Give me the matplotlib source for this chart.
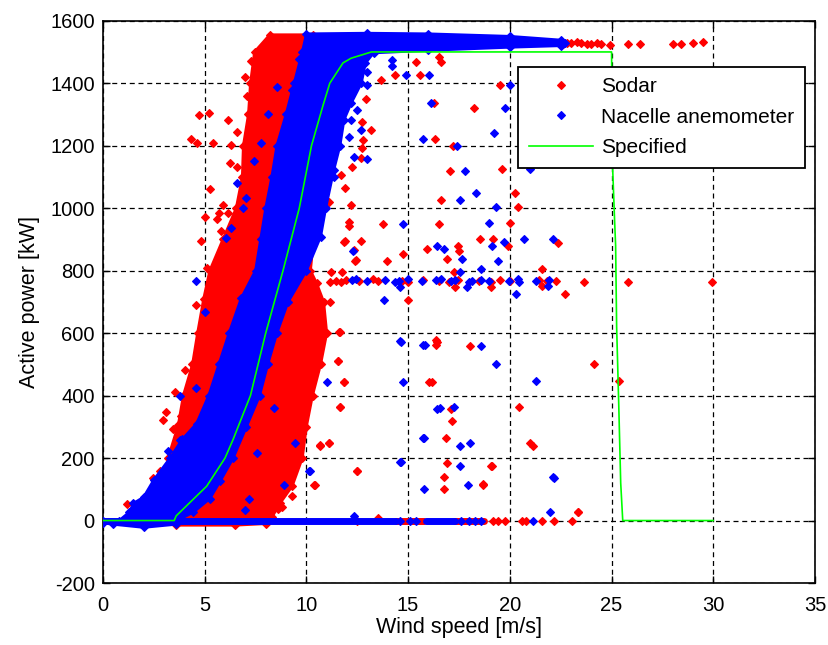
import matplotlib
matplotlib.use("Agg")
import matplotlib.pyplot as plt
from matplotlib.patches import Polygon

plt.rcParams['font.family'] = ['Liberation Sans', 'DejaVu Sans']
plt.rcParams['axes.unicode_minus'] = False

RED = '#ff0000'
BLUE = '#0000ff'
GREEN = '#00ff00'

# ---- Specified power curve ----
spec_ws = [0.0, 3.5, 3.6, 5.1, 5.6, 6.0, 6.4, 7.25, 8.0, 8.85, 9.65, 10.25, 10.8,
           11.15, 11.8, 12.2, 13.2, 25.0, 25.05, 25.15, 25.2, 25.25, 25.35, 25.45,
           25.55, 30.0]
spec_kw = [0, 0, 15, 110, 160, 200, 260, 400, 600, 800, 1000, 1200, 1325,
           1400, 1465, 1480, 1500, 1500, 1135, 960, 880, 620, 380, 120,
           0, 0]

# ---- Dense Sodar cloud outline (wind speed, power) ----
sodar_band_ws = [3.6, 6.5, 8.0, 8.3, 8.7, 9.3, 9.8, 10.0, 10.3, 10.7, 11.0, 10.85,
                 10.5, 10.2, 10.5, 11.2, 12.2, 12.5, 12.5, 10.3, 8.2, 7.45, 7.25,
                 7.15, 6.9, 6.85, 6.55, 5.9, 5.25, 4.95, 4.65, 4.4, 3.95, 3.7,
                 3.2, 3.3, 3.6]
sodar_band_kw = [-15, -15, -10, 10, 55, 110, 200, 300, 400, 500, 600, 700,
                 760, 800, 1000, 1200, 1400, 1480, 1545, 1555, 1555, 1500, 1400,
                 1300, 1200, 1100, 1000, 900, 800, 710, 600, 500, 400, 305,
                 200, 100, 0]

# ---- Dense nacelle anemometer cloud outline ----
nacelle_band_ws = [0.0, 0.8, 1.3, 1.5, 2.0, 2.5, 3.3, 3.9, 4.6, 5.2, 5.7, 6.2,
                   6.8, 7.5, 7.75, 8.0, 8.3, 8.55, 9.0, 9.4, 9.8, 10.0, 13.0,
                   16.0, 20.0, 22.5, 22.7, 22.5, 20.0, 16.0, 13.3, 12.9, 12.7,
                   12.2, 11.85, 11.65, 11.35, 10.95, 10.7, 10.0, 9.1, 8.55, 8.1,
                   7.7, 7.05, 6.4, 5.75, 5.25, 4.45, 3.8, 3.6, 2.0, 0.5, 0.0]
nacelle_band_kw = [0, 0, 27, 55, 75, 130, 200, 260, 310, 400, 500, 600,
                   712, 800, 900, 1000, 1100, 1200, 1300, 1400, 1500, 1558, 1560,
                   1558, 1550, 1538, 1528, 1520, 1515, 1505, 1497, 1464, 1400,
                   1336, 1283, 1200, 1123, 1000, 909, 800, 700, 600, 500,
                   400, 300, 200, 125, 70, 27, 5, -12, -22, -12, -8]

# Continuous runs of stopped-turbine readings on the zero line (start, end)
nacelle_zero_runs = [(0.0, 14.4), (15.9, 17.3)]
sodar_zero_runs = [(14.4, 15.8), (17.3, 18.75)]

# ---- Individual Sodar readings ----
sodar_ws = [
    # left of the main cloud
    1.2, 2.46, 2.79, 2.95, 3.11, 3.46, 3.52, 3.85, 4.02, 4.34, 4.59, 4.8, 5.13, 5.0,
    4.72, 5.21, 6.15, 6.57, 4.31, 4.64, 5.43, 6.28, 6.25, 6.57, 5.26, 5.92, 5.7,
    6.16, 5.59, 5.79, 7.3, 7.0, 7.1,
    # right of the main cloud, low power
    10.36, 9.29, 8.6, 8.8, 11.1, 11.67, 12.5, 10.67, 11.13, 11.53, 11.87, 11.67,
    11.17, 11.58, 10.65, 12.49, 11.54, 11.66, 11.84, 10.4,
    # upper right region
    12.09, 13.77, 16.52, 20.03, 11.89, 12.66, 12.4, 13.95, 14.75, 15.95, 17.46,
    17.5, 16.9, 18.53, 19.18, 19.9, 22.35, 21.58, 17.26, 11.2, 11.77, 15.39, 16.5,
    16.6, 13.65, 14.37, 15.57, 19.54, 16.25, 18.25, 16.34, 17.19, 17.05, 19.62,
    20.27, 16.64, 20.41, 12.58, 12.94, 12.75, 13.16, 12.8, 12.75, 12.66, 12.25,
    11.68, 11.92, 12.17, 11.13, 11.84, 12.34, 12.09, 12.42,
    # 760 kW derated row
    11.17, 11.46, 11.72, 11.97, 12.57, 13.26, 13.52, 14.72, 14.97, 15.75, 16.52,
    17.03, 17.43, 18.49, 19.09, 19.52, 20.03, 21.41, 21.84, 22.26, 23.67, 25.83,
    29.93, 15.0, 22.69, 17.3, 19.05, 21.58,
    # lower right region
    16.35, 16.35, 18.03, 24.15, 16.04, 25.35, 17.12, 17.15, 20.43, 16.86, 20.98,
    21.15, 16.91, 19.06, 16.74, 16.74, 18.66, 23.33, 19.1, 18.7, 23.36, 16.42,
    16.17,
    # zero line
    12.5, 13.5, 19.19, 19.43, 19.76, 20.58, 20.8, 21.57, 22.17, 23.04,
    # full-power tail
    22.6, 22.8, 23.0, 23.3, 23.5, 23.8, 24.0, 24.3, 24.5, 24.9, 25.8, 26.4, 28.0,
    28.4, 29.0, 29.5,
]
sodar_kw = [
    52, 135, 157, 322, 349, 292, 413, 335, 483, 370, 691, 896, 807, 973,
    1299, 1304, 1283, 1245, 1222, 1208, 1208, 1202, 1146, 1133, 1061, 1010, 983,
    986, 964, 928, 1470, 1420, 1360,
    114, 77, 38, 42, 247, 363, 157, 242, 248, 511, 442, 602,
    701, 605, 237, 160, 510, 362, 442, 114,
    944, 949, 949, 953, 894, 894, 830, 830, 854, 870, 880,
    862, 838, 900, 900, 878, 889, 806, 795, 795, 795, 1467, 1485,
    1467, 1410, 1426, 1426, 1394, 1335, 1319, 1220, 1200, 1120, 1125,
    1047, 1026, 1005, 1443, 1350, 1277, 1251, 1219, 1192, 1160, 1133,
    1107, 1064, 1011, 1021, 893, 867, 957, 835,
    765, 768, 764, 770, 766, 772, 768, 767, 764, 770, 768,
    765, 771, 768, 764, 769, 767, 770, 766, 768, 763, 763,
    763, 705, 726, 748, 748, 752,
    577, 563, 560, 501, 442, 448, 358, 320, 363, 264, 248,
    237, 184, 173, 138, 100, 114, 26, 173, 117, 27, 573,
    442,
    0, 8, 0, 0, 0, 0, 0, 0, 0, 0,
    1525, 1530, 1528, 1532, 1530, 1526, 1527, 1530, 1525, 1522, 1524, 1524, 1527,
    1527, 1529, 1531,
]

# ---- Individual nacelle anemometer readings ----
nacelle_ws = [
    # inside / left of the Sodar cloud
    4.56, 5.0, 3.77, 3.77, 3.2, 4.59, 6.57, 6.28, 6.03, 7.02, 7.75, 8.57, 9.64,
    9.31, 7.4, 6.9, 8.1,
    # right side, low power
    8.88, 10.2, 7.0, 7.16, 8.39, 9.46, 7.57, 10.13, 14.58, 11.03, 14.75, 16.58,
    15.8, 14.67, 15.8, 14.67, 15.83, 13.83, 20.29, 14.58, 15.71, 18.6, 19.31,
    21.27, 16.43, 17.24, 15.71, 17.55, 18.06, 17.55, 22.14, 17.94, 21.97, 22.17,
    # upper right region
    12.3, 14.75, 19.0, 16.43, 16.78, 17.63, 19.1, 19.73, 20.69, 22.14, 19.4,
    17.55, 18.58, 14.91, 16.04, 20.02, 16.11, 19.76, 19.21, 15.74, 17.41, 17.79,
    20.99, 18.36, 17.57, 19.33, 14.2, 14.2, 12.99, 12.96, 12.5, 12.17, 12.66,
    12.09, 12.34, 12.99, 11.35,
    # 760 kW derated row
    12.23, 12.45, 13.0, 13.86, 14.37, 14.55, 14.97, 15.66, 16.35, 16.6, 17.12,
    17.29, 17.98, 18.15, 18.58, 18.97, 19.95, 20.38, 20.46, 21.27, 21.92, 14.6,
    17.9, 21.9,
    # zero line
    12.33, 14.6, 15.1, 15.4, 17.6, 18.0, 18.3, 18.6, 21.14,
]
nacelle_kw = [
    768, 669, 399, 258, 221, 424, 1082, 935, 903, 1032, 1210, 1389, 1477,
    1379, 1150, 1000, 1300,
    114, 157, 34, 68, 359, 247, 215, 159, 186, 442, 442, 360,
    264, 186, 100, 573, 563, 705, 726, 574, 563, 560, 501,
    448, 358, 365, 264, 237, 248, 173, 138, 114, 26, 137,
    864, 949, 953, 880, 870, 838, 880, 891, 900, 900, 832,
    795, 806, 1426, 1426, 1394, 1338, 1319, 1242, 1220, 1200, 1120,
    1125, 1047, 1026, 1005, 1475, 1455, 1437, 1395, 1315, 1283, 1251,
    1229, 1165, 1157, 1101,
    770, 772, 766, 770, 764, 768, 772, 766, 770, 772, 767,
    770, 764, 768, 770, 766, 768, 772, 764, 768, 770, 748,
    748, 752,
    13, 0, 0, 0, 0, 0, 0, 0, 0,
]

fig = plt.figure(figsize=(8.29, 6.45), dpi=100)
ax = fig.add_axes([0.1242, 0.0961, 0.8589, 0.8718])

MS = 4.3
MEW = 0.8
RUN_LW = 5.0

# Sodar: dense cloud, zero-power runs, single readings
ax.add_patch(Polygon(list(zip(sodar_band_ws, sodar_band_kw)), closed=True,
                     facecolor=RED, edgecolor=RED, lw=2.0, zorder=2))
ax.plot(sodar_band_ws, sodar_band_kw, 'D', ls='none', color=RED, ms=MS,
        mew=MEW, zorder=2)
for x0, x1 in sodar_zero_runs:
    ax.plot([x0, x1], [0, 0], '-', color=RED, lw=RUN_LW,
            solid_capstyle='round', zorder=2)
ax.plot(sodar_ws, sodar_kw, 'D', ls='none', color=RED, ms=MS, mew=MEW,
        zorder=3, label='Sodar')

# Nacelle anemometer: dense cloud, zero-power runs, single readings
ax.add_patch(Polygon(list(zip(nacelle_band_ws, nacelle_band_kw)), closed=True,
                     facecolor=BLUE, edgecolor=BLUE, lw=2.0, zorder=4))
ax.plot(nacelle_band_ws, nacelle_band_kw, 'D', ls='none', color=BLUE, ms=MS,
        mew=MEW, zorder=4)
for x0, x1 in nacelle_zero_runs:
    ax.plot([x0, x1], [0, 0], '-', color=BLUE, lw=RUN_LW,
            solid_capstyle='round', zorder=4)
ax.plot(nacelle_ws, nacelle_kw, 'D', ls='none', color=BLUE, ms=MS, mew=MEW,
        zorder=5, label='Nacelle anemometer')

ax.plot(spec_ws, spec_kw, '-', color=GREEN, lw=1.2, zorder=6,
        label='Specified')

ax.set_xlim(0, 35)
ax.set_ylim(-200, 1600)
ax.set_xticks(range(0, 36, 5))
ax.set_yticks(range(-200, 1601, 200))

ax.grid(True, color='black', ls=(0, (4, 3)), lw=0.9)
ax.set_axisbelow(True)
ax.tick_params(direction='in', length=5, width=1, top=True, right=True,
               labelsize=14.5, colors='black')
ax.tick_params(axis='y', pad=6)
ax.tick_params(axis='x', pad=9)
for s in ax.spines.values():
    s.set_linewidth(1.2)

ax.set_xlabel('Wind speed [m/s]', fontsize=15.5, labelpad=2)
ax.set_ylabel('Active power [kW]', fontsize=15.5, labelpad=7)

leg = ax.legend(loc='upper right', bbox_to_anchor=(0.986, 0.918),
                fontsize=15, handlelength=3.1, handletextpad=0.4,
                borderpad=0.5, labelspacing=0.55, fancybox=False,
                framealpha=1, edgecolor='black', borderaxespad=0)
leg.get_frame().set_linewidth(1.3)
leg.set_zorder(10)

fig.savefig('out.png', dpi=100, facecolor='white')
